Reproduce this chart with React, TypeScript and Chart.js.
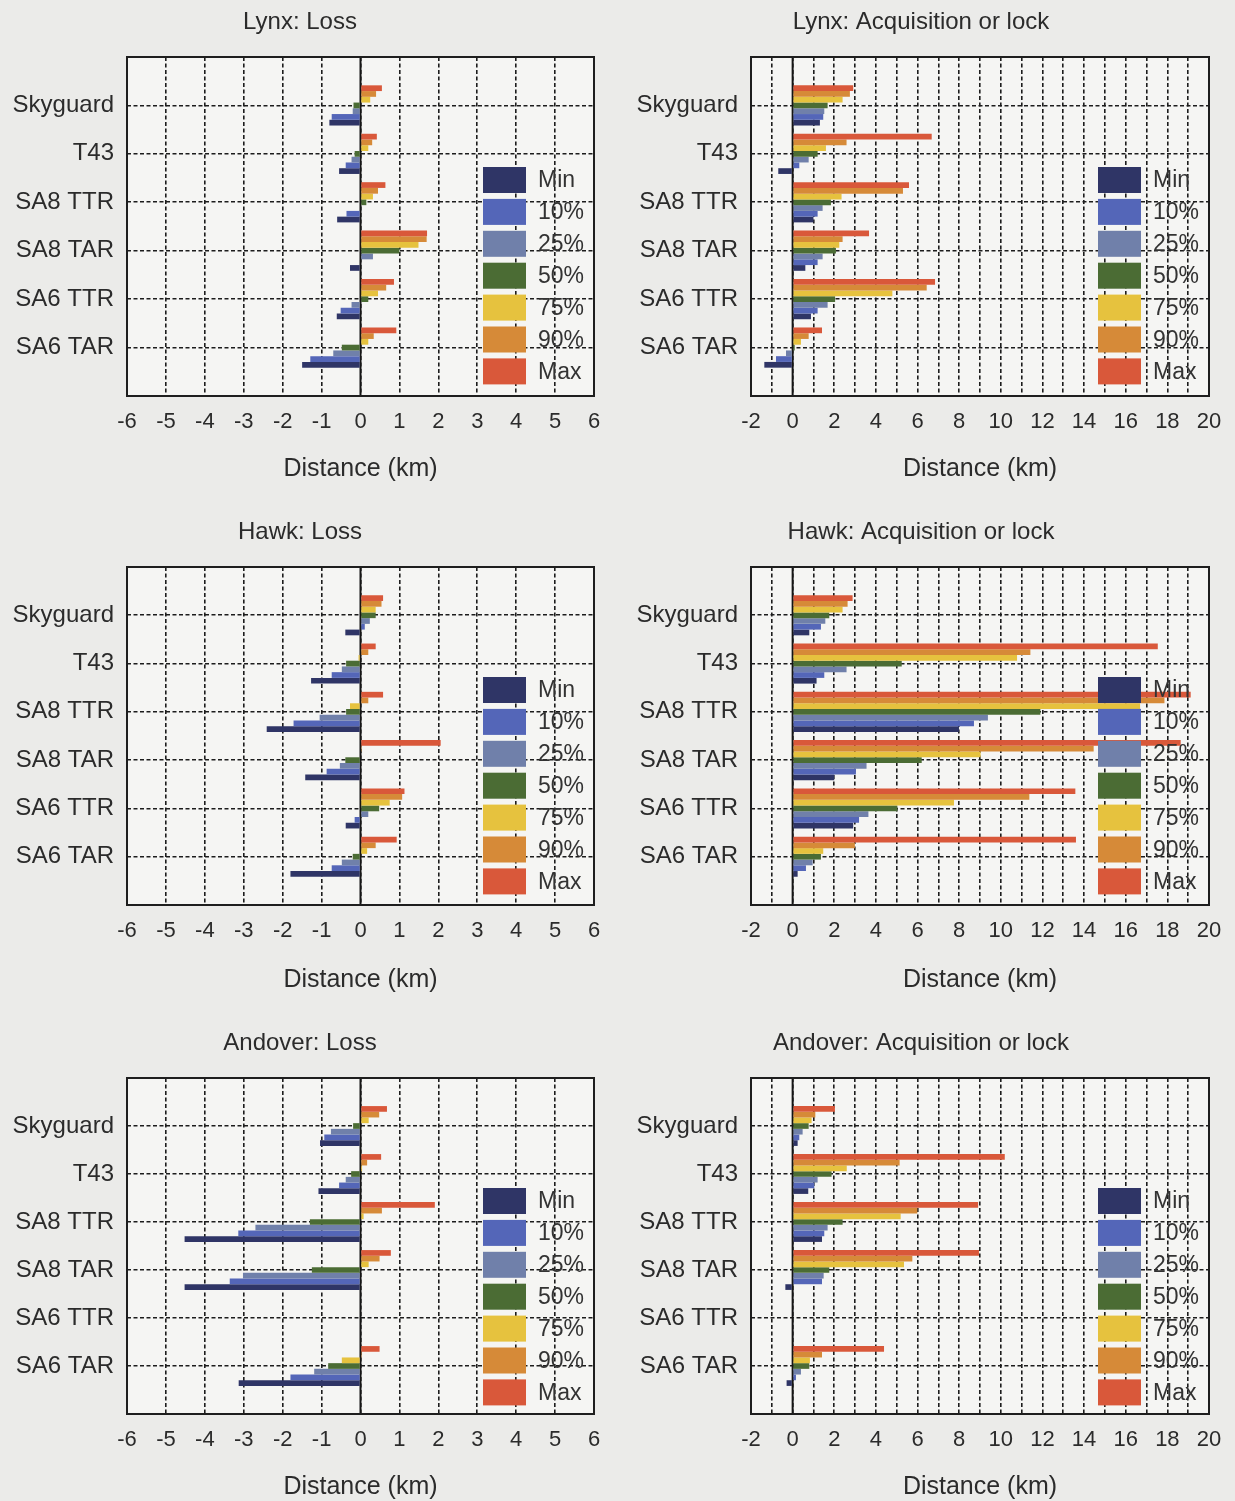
import React, { useEffect, useRef } from 'react';
import { Chart, registerables } from 'chart.js';

Chart.register(...registerables);

const FONT = '"Liberation Sans", Arial, Helvetica, sans-serif';
const TEXT = '#2b2b2b';
const GRID = '#1c1c1c';
const PAGE_BG = '#ebebe9';
const PLOT_BG = '#f5f5f3';

// ---------- data ----------
const categories = ['Skyguard', 'T43', 'SA8 TTR', 'SA8 TAR', 'SA6 TTR', 'SA6 TAR'];
const seriesNames = ['Min', '10%', '25%', '50%', '75%', '90%', 'Max'];
const seriesColors = ['#2f3566', '#5466b8', '#7080aa', '#4b6c34', '#e6c23e', '#d68a38', '#d9583a'];

const axisTitle = 'Distance (km)';
const lossRange = [-6, 6];
const lossLabelEvery = 1;
const acqRange = [-2, 20];
const acqLabelEvery = 2;

// rows: Min, 10%, 25%, 50%, 75%, 90%, Max ; columns follow categories
const lynxLoss = [
  [-0.8, -0.55, -0.6, -0.27, -0.61, -1.5],
  [-0.74, -0.38, -0.36, 0.0, -0.51, -1.29],
  [-0.2, -0.23, 0.0, 0.32, -0.23, -0.7],
  [-0.18, -0.15, 0.15, 1.0, 0.2, -0.48],
  [0.25, 0.2, 0.32, 1.49, 0.45, 0.2],
  [0.4, 0.3, 0.45, 1.7, 0.66, 0.34],
  [0.55, 0.42, 0.64, 1.71, 0.86, 0.92],
];

const lynxAcq = [
  [1.31, -0.69, 1.0, 0.61, 0.88, -1.36],
  [1.47, 0.32, 1.2, 1.2, 1.2, -0.8],
  [1.52, 0.77, 1.44, 1.44, 1.68, -0.32],
  [1.68, 1.2, 1.84, 2.08, 2.04, 0.1],
  [2.4, 1.6, 2.35, 2.24, 4.79, 0.4],
  [2.75, 2.59, 5.3, 2.4, 6.44, 0.77],
  [2.91, 6.68, 5.59, 3.67, 6.84, 1.41],
];

const hawkLoss = [
  [-0.39, -1.27, -2.41, -1.42, -0.38, -1.8],
  [0.11, -0.74, -1.72, -0.87, -0.15, -0.74],
  [0.24, -0.48, -1.05, -0.53, 0.2, -0.48],
  [0.39, -0.37, -0.37, -0.39, 0.48, -0.2],
  [0.39, -0.05, -0.27, 0.0, 0.75, 0.17],
  [0.54, 0.2, 0.2, 0.03, 1.07, 0.39],
  [0.58, 0.39, 0.58, 2.06, 1.13, 0.93],
];

const hawkAcq = [
  [0.8, 1.15, 7.99, 2.0, 2.91, 0.24],
  [1.36, 1.52, 8.71, 3.04, 3.19, 0.64],
  [1.57, 2.59, 9.38, 3.55, 3.64, 0.96],
  [1.76, 5.24, 11.9, 6.2, 5.03, 1.36],
  [2.4, 10.78, 16.69, 9.03, 7.75, 1.47],
  [2.64, 11.42, 17.86, 14.46, 11.37, 2.99],
  [2.88, 17.54, 19.12, 18.64, 13.58, 13.61],
];

const andoverLoss = [
  [-1.04, -1.08, -4.52, -4.52, null, -3.13],
  [-0.93, -0.55, -3.14, -3.36, null, -1.8],
  [-0.76, -0.38, -2.7, -3.02, null, -1.19],
  [-0.19, -0.24, -1.3, -1.25, null, -0.83],
  [0.21, 0.04, 0.08, 0.21, null, -0.48],
  [0.48, 0.17, 0.55, 0.49, null, 0.03],
  [0.68, 0.53, 1.91, 0.78, null, 0.49],
];

const andoverAcq = [
  [0.24, 0.75, 1.41, -0.35, null, -0.29],
  [0.32, 1.04, 1.52, 1.41, null, 0.16],
  [0.48, 1.2, 1.68, 1.49, null, 0.4],
  [0.77, 1.87, 2.4, 1.76, null, 0.8],
  [0.91, 2.6, 5.19, 5.35, null, 0.83],
  [1.09, 5.14, 5.99, 5.75, null, 1.41],
  [2.03, 10.19, 8.91, 8.95, null, 4.39],
];

// ---------- layout ----------
const COLS = [
  { left: 0, width: 620, padL: 6, padR: 26, yWidth: 121 },
  { left: 633, width: 602, padL: 0, padR: 26, yWidth: 118 },
];
const ROWS = [
  { top: 0, height: 490, plotBottom: 396, axisTitleY: 469 },
  { top: 510, height: 490, plotBottom: 395, axisTitleY: 470 },
  { top: 1021, height: 480, plotBottom: 393, axisTitleY: 466 },
];
const PLOT_TOP = 57;
const TITLE_Y = 22;

const decorPlugin = {
  id: 'panelDecor',
  beforeDraw(chart: any) {
    const { ctx, chartArea: a } = chart;
    ctx.save();
    ctx.fillStyle = PLOT_BG;
    ctx.fillRect(a.left, a.top, a.right - a.left, a.bottom - a.top);
    ctx.restore();
  },
  beforeDatasetsDraw(chart: any) {
    const { ctx, chartArea: a } = chart;
    const x0 = chart.scales.x.getPixelForValue(0);
    ctx.save();
    ctx.strokeStyle = '#151515';
    ctx.lineWidth = 2;
    ctx.setLineDash([]);
    ctx.beginPath();
    ctx.moveTo(x0, a.top);
    ctx.lineTo(x0, a.bottom);
    ctx.stroke();
    ctx.restore();
  },
  afterDraw(chart: any) {
    const { ctx, chartArea: a } = chart;
    ctx.save();
    ctx.strokeStyle = '#1e1e1e';
    ctx.lineWidth = 2;
    ctx.setLineDash([]);
    ctx.strokeRect(a.left, a.top, a.right - a.left, a.bottom - a.top);
    // legend inside the plot
    const bx = a.right - 111;
    const by = a.top + 110;
    ctx.font = `23px ${FONT}`;
    ctx.textAlign = 'left';
    ctx.textBaseline = 'middle';
    seriesNames.forEach((name, i) => {
      const y = by + i * 31.9;
      ctx.fillStyle = seriesColors[i];
      ctx.fillRect(bx, y, 43, 26);
      ctx.fillStyle = '#333333';
      ctx.fillText(name, bx + 55, y + 14);
    });
    ctx.restore();
  },
};

type PanelProps = {
  title: string;
  values: (number | null)[][];
  range: number[];
  labelEvery: number;
  col: number;
  row: number;
};

function Panel({ title, values, range, labelEvery, col, row }: PanelProps) {
  const ref = useRef<HTMLCanvasElement | null>(null);
  const c = COLS[col];
  const r = ROWS[row];

  useEffect(() => {
    if (!ref.current) return;
    const titleFont = 24;
    const titleLH = titleFont * 1.2;
    const titlePadTop = TITLE_Y - titleLH / 2;
    const titlePadBottom = PLOT_TOP - titlePadTop - titleLH;
    const xHeight = r.height - r.plotBottom;
    const axisTitleFont = 25;
    const axisTitlePadBottom = r.height - r.axisTitleY - axisTitleFont / 2;

    const datasets = seriesNames
      .map((name, i) => ({
        label: name,
        data: [null, ...values[i], null],
        backgroundColor: seriesColors[i],
        borderWidth: 0,
      }))
      .reverse();

    const chart = new Chart(ref.current, {
      type: 'bar',
      data: { labels: ['', ...categories, ''], datasets: datasets as any },
      options: {
        indexAxis: 'y',
        responsive: false,
        maintainAspectRatio: false,
        animation: false,
        datasets: { bar: { categoryPercentage: 0.83, barPercentage: 1 } } as any,
        layout: { padding: { left: c.padL, right: c.padR, top: 0, bottom: 0 } },
        plugins: {
          legend: { display: false },
          tooltip: { enabled: false },
          title: {
            display: true,
            text: title,
            color: TEXT,
            font: { family: FONT, size: titleFont, weight: 'normal', lineHeight: 1.2 },
            padding: { top: titlePadTop, bottom: titlePadBottom },
          },
        },
        scales: {
          x: {
            type: 'linear',
            min: range[0],
            max: range[1],
            grid: { color: GRID, lineWidth: 1.6, drawTicks: false },
            border: { display: false, dash: [4, 2.5] },
            ticks: {
              stepSize: 1,
              autoSkip: false,
              maxRotation: 0,
              minRotation: 0,
              padding: 13,
              color: TEXT,
              font: { family: FONT, size: 22, lineHeight: 1.2 },
              callback: (v: any) => (Number(v) % labelEvery === 0 ? String(v) : ''),
            },
            title: {
              display: true,
              text: axisTitle,
              color: TEXT,
              font: { family: FONT, size: axisTitleFont, lineHeight: 1 },
              padding: { top: 0, bottom: axisTitlePadBottom },
            },
            afterFit: (s: any) => {
              s.height = xHeight;
            },
          },
          y: {
            type: 'category',
            offset: false,
            grid: { color: GRID, lineWidth: 1.6, drawTicks: false, offset: false },
            border: { display: false, dash: [4, 2.5] },
            ticks: {
              autoSkip: false,
              padding: 13,
              color: TEXT,
              font: { family: FONT, size: 24 },
            },
            afterFit: (s: any) => {
              s.width = c.yWidth;
            },
          },
        },
      } as any,
      plugins: [decorPlugin],
    });
    return () => chart.destroy();
  }, []);

  return (
    <canvas
      ref={ref}
      width={c.width}
      height={r.height}
      style={{ position: 'absolute', left: c.left, top: r.top, width: c.width, height: r.height }}
    />
  );
}

export default function App() {
  return (
    <div
      style={{
        position: 'absolute',
        left: 0,
        top: 0,
        width: 1235,
        height: 1501,
        background: PAGE_BG,
        overflow: 'hidden',
      }}
    >
      <Panel title="Lynx: Loss" values={lynxLoss} range={lossRange} labelEvery={lossLabelEvery} col={0} row={0} />
      <Panel title="Lynx: Acquisition or lock" values={lynxAcq} range={acqRange} labelEvery={acqLabelEvery} col={1} row={0} />
      <Panel title="Hawk: Loss" values={hawkLoss} range={lossRange} labelEvery={lossLabelEvery} col={0} row={1} />
      <Panel title="Hawk: Acquisition or lock" values={hawkAcq} range={acqRange} labelEvery={acqLabelEvery} col={1} row={1} />
      <Panel title="Andover: Loss" values={andoverLoss} range={lossRange} labelEvery={lossLabelEvery} col={0} row={2} />
      <Panel title="Andover: Acquisition or lock" values={andoverAcq} range={acqRange} labelEvery={acqLabelEvery} col={1} row={2} />
    </div>
  );
}
